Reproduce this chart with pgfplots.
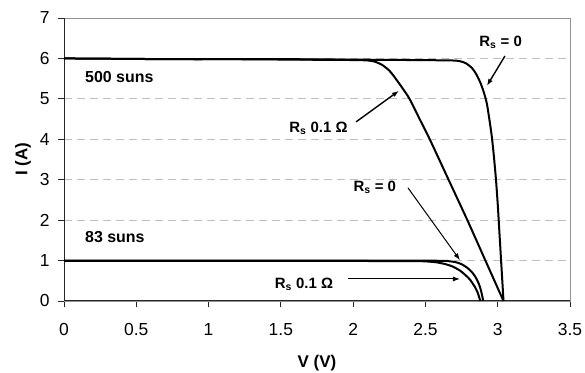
\documentclass[border=0pt]{standalone}
\usepackage{fontspec}
\setmainfont{Liberation Sans}
\usepackage{pgfplots}
\pgfplotsset{compat=1.18}
\usetikzlibrary{arrows.meta}

\begin{document}
\begin{tikzpicture}
\begin{axis}[
  name=ax,
  scale only axis,
  width=506bp, height=283bp,
  xmin=0, xmax=3.5, ymin=0, ymax=7,
  xtick={0,0.5,1,1.5,2,2.5,3,3.5},
  xticklabels={0,0.5,1,1.5,2,2.5,3,3.5},
  ytick={0,1,2,3,4,5,6,7},
  xtick pos=bottom, ytick pos=left,
  tick align=outside,
  major tick length=6bp,
  tick style={black!85, line width=0.9bp},
  axis line style={draw=gray!85, line width=0.9bp},
  ymajorgrids,
  grid style={gray!50, dash pattern=on 8bp off 5bp, line width=0.8bp},
  /pgf/number format/assume math mode=true,
  tick label style={font=\fontsize{17.5}{20}\selectfont},
  xticklabel style={yshift=-13bp},
  yticklabel style={xshift=-5bp},
  xlabel={V (V)}, ylabel={I (A)},
  label style={font=\bfseries\fontsize{17}{20}\selectfont},
  x label style={at={(axis description cs:0.5,-0.219)}, anchor=center},
  y label style={at={(axis description cs:-0.081,0.5)}, anchor=center},
  clip=false,
]
% dark left and bottom axis lines over the grey frame
\draw[black!85, line width=1bp] (rel axis cs:0,1) -- (rel axis cs:0,0) -- (rel axis cs:1,0);

% 500 suns, R_s = 0
\addplot[black, line width=2bp, smooth, tension=0.4] coordinates {
 (0,6.00)(0.4,5.99)(0.8,5.98)(1.2,5.98)(1.6,5.98)(2.0,5.97)(2.4,5.96)(2.68,5.95)
 (2.74,5.93)(2.78,5.88)(2.82,5.77)(2.85,5.62)(2.88,5.40)(2.905,5.15)(2.925,4.88)
 (2.942,4.5)(2.958,4.1)(2.973,3.6)(2.988,3.0)(3.00,2.4)(3.01,1.8)(3.02,1.2)(3.03,0.6)(3.04,0)
};
% 500 suns, R_s = 0.1 Ohm
\addplot[black, line width=2bp, smooth, tension=0.4] coordinates {
 (0,6.00)(0.4,5.99)(0.8,5.98)(1.2,5.98)(1.6,5.97)(2.0,5.96)(2.1,5.95)(2.15,5.92)
 (2.2,5.84)(2.25,5.70)(2.29,5.52)(2.34,5.27)(2.39,5.0)(2.46,4.5)(2.53,4.0)
 (2.66,3.0)(2.79,2.0)(2.915,1.0)(3.04,0)
};
% 83 suns, R_s = 0
\addplot[black, line width=2bp, smooth, tension=0.4] coordinates {
 (0,1.0)(1.0,1.0)(2.0,1.0)(2.6,0.995)(2.66,0.985)(2.71,0.96)(2.75,0.91)(2.79,0.82)
 (2.82,0.72)(2.845,0.6)(2.87,0.42)(2.885,0.25)(2.90,0)
};
% 83 suns, R_s = 0.1 Ohm
\addplot[black, line width=2bp, smooth, tension=0.4] coordinates {
 (0,0.995)(1.0,0.995)(2.0,0.99)(2.45,0.985)(2.52,0.975)(2.58,0.955)(2.64,0.91)
 (2.69,0.85)(2.74,0.75)(2.78,0.63)(2.81,0.52)(2.84,0.36)(2.86,0.22)(2.88,0)
};

% annotations
\begin{scope}[every node/.style={font=\bfseries\fontsize{16}{20}\selectfont, inner sep=0pt}]
\node[anchor=west] at (axis cs:0.145,5.54) {500 suns};
\node[anchor=west] at (axis cs:0.145,1.58) {83 suns};
\end{scope}
\begin{scope}[every node/.style={font=\bfseries\fontsize{15}{18}\selectfont, inner sep=0pt}]
\node at (axis cs:3.02,6.39) {R\textsubscript{s} = 0};
\node at (axis cs:1.76,4.28) {R\textsubscript{s} 0.1 Ω};
\node at (axis cs:2.15,2.82) {R\textsubscript{s} = 0};
\node at (axis cs:1.66,0.42) {R\textsubscript{s} 0.1 Ω};
\end{scope}
\draw[-{Latex[length=7bp,width=5bp]}, line width=1.4bp] (axis cs:3.05,6.06) -- (axis cs:2.925,5.32);
\draw[-{Latex[length=7bp,width=5bp]}, line width=1.4bp] (axis cs:2.02,4.43) -- (axis cs:2.317,5.20);
\draw[-{Latex[length=7bp,width=5bp]}, line width=1bp] (axis cs:2.379,2.80) -- (axis cs:2.739,1.01);
\draw[-{Latex[length=7bp,width=5bp]}, line width=1bp] (axis cs:1.964,0.545) -- (axis cs:2.739,0.545);
\end{axis}
\pgfresetboundingbox
\path ([xshift=-64bp,yshift=-72bp]ax.south west) rectangle ([xshift=15bp,yshift=18bp]ax.north east);
\end{tikzpicture}
\end{document}
